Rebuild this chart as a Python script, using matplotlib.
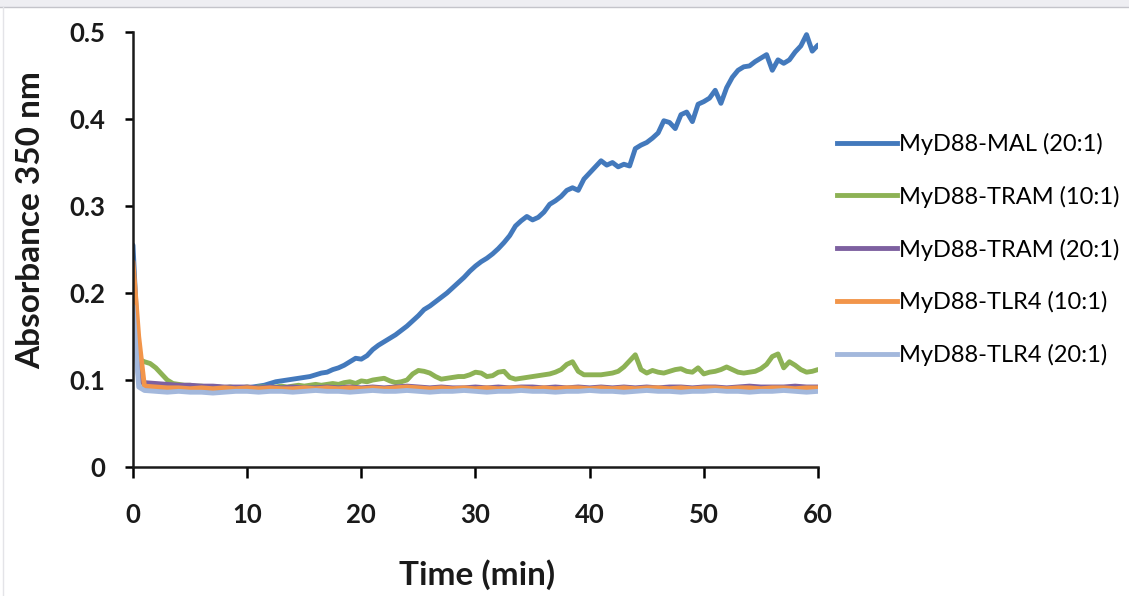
import numpy as np
import matplotlib
matplotlib.use("Agg")
import matplotlib.pyplot as plt
from matplotlib.patches import Rectangle
from matplotlib.lines import Line2D

# time axes (min)
t_fine = np.arange(0, 60.5, 0.5)
t_flat = np.concatenate([[0, 0.5], np.arange(1, 61)])

mal_20 = [
    0.255, 0.120, 0.092, 0.090, 0.089, 0.089, 0.088, 0.089, 0.088, 0.088,
    0.089, 0.088, 0.088, 0.089, 0.088, 0.089, 0.089, 0.089, 0.090, 0.090,
    0.091, 0.092, 0.093, 0.094, 0.096, 0.098, 0.099, 0.100, 0.101, 0.102,
    0.103, 0.104, 0.106, 0.108, 0.109, 0.112, 0.114, 0.117, 0.121, 0.125,
    0.124, 0.128, 0.135, 0.140, 0.144, 0.148, 0.152, 0.157, 0.162, 0.168,
    0.174, 0.181, 0.185, 0.190, 0.195, 0.200, 0.206, 0.212, 0.218, 0.225,
    0.231, 0.236, 0.240, 0.245, 0.251, 0.258, 0.266, 0.277, 0.283, 0.288,
    0.284, 0.287, 0.293, 0.302, 0.306, 0.311, 0.318, 0.321, 0.318, 0.331,
    0.338, 0.345, 0.352, 0.347, 0.350, 0.345, 0.348, 0.346, 0.366, 0.370,
    0.373, 0.378, 0.384, 0.398, 0.396, 0.389, 0.405, 0.408, 0.397, 0.417,
    0.420, 0.424, 0.433, 0.418, 0.436, 0.448, 0.456, 0.460, 0.461, 0.466,
    0.470, 0.474, 0.456, 0.468, 0.464, 0.468, 0.477, 0.484, 0.497, 0.478,
    0.485,
]

tram_10 = [
    0.200, 0.124, 0.121, 0.119, 0.114, 0.107, 0.100, 0.096, 0.095, 0.094,
    0.094, 0.093, 0.093, 0.092, 0.092, 0.092, 0.091, 0.092, 0.091, 0.091,
    0.092, 0.091, 0.092, 0.092, 0.091, 0.092, 0.093, 0.092, 0.093, 0.094,
    0.093, 0.094, 0.095, 0.094, 0.095, 0.096, 0.095, 0.097, 0.098, 0.096,
    0.099, 0.098, 0.100, 0.101, 0.102, 0.099, 0.097, 0.098, 0.100, 0.107,
    0.111, 0.110, 0.108, 0.104, 0.101, 0.102, 0.103, 0.104, 0.104, 0.106,
    0.109, 0.108, 0.104, 0.105, 0.109, 0.110, 0.103, 0.101, 0.102, 0.103,
    0.104, 0.105, 0.106, 0.107, 0.109, 0.112, 0.118, 0.121, 0.110, 0.106,
    0.106, 0.106, 0.106, 0.107, 0.108, 0.110, 0.115, 0.122, 0.129, 0.112,
    0.108, 0.111, 0.109, 0.108, 0.110, 0.112, 0.113, 0.110, 0.109, 0.114,
    0.107, 0.109, 0.110, 0.112, 0.115, 0.112, 0.109, 0.108, 0.109, 0.110,
    0.113, 0.118, 0.127, 0.130, 0.114, 0.121, 0.117, 0.112, 0.109, 0.110,
    0.112,
]

tram_20 = [
    0.195, 0.100, 0.097, 0.096, 0.095, 0.094, 0.094, 0.093, 0.093, 0.092, 0.092, 0.092,
    0.091, 0.092, 0.091, 0.092, 0.091, 0.091, 0.092, 0.091, 0.092, 0.091,
    0.092, 0.091, 0.092, 0.093, 0.092, 0.091, 0.092, 0.091, 0.091, 0.092,
    0.091, 0.092, 0.091, 0.092, 0.092, 0.091, 0.092, 0.091, 0.092, 0.091,
    0.092, 0.091, 0.092, 0.091, 0.092, 0.091, 0.092, 0.092, 0.091, 0.092,
    0.092, 0.091, 0.092, 0.093, 0.092, 0.092, 0.092, 0.093, 0.092, 0.092,
]

tlr4_10 = [
    0.236, 0.150, 0.093, 0.092, 0.091, 0.091, 0.090, 0.091, 0.090, 0.091, 0.090, 0.091,
    0.090, 0.091, 0.090, 0.090, 0.091, 0.090, 0.091, 0.090, 0.091, 0.090,
    0.091, 0.090, 0.091, 0.092, 0.091, 0.090, 0.091, 0.090, 0.091, 0.090,
    0.091, 0.090, 0.091, 0.091, 0.090, 0.091, 0.090, 0.091, 0.091, 0.090,
    0.091, 0.090, 0.091, 0.090, 0.091, 0.091, 0.090, 0.091, 0.090, 0.091,
    0.091, 0.090, 0.091, 0.091, 0.090, 0.091, 0.091, 0.090, 0.091, 0.091,
]

tlr4_20 = [
    0.185, 0.092, 0.088, 0.087, 0.086, 0.087, 0.086, 0.086, 0.085, 0.086, 0.087, 0.087,
    0.086, 0.087, 0.087, 0.086, 0.087, 0.088, 0.087, 0.087, 0.086, 0.087,
    0.088, 0.087, 0.087, 0.088, 0.087, 0.086, 0.087, 0.087, 0.088, 0.087,
    0.086, 0.087, 0.087, 0.088, 0.087, 0.087, 0.086, 0.087, 0.087, 0.088,
    0.087, 0.087, 0.086, 0.087, 0.088, 0.087, 0.087, 0.086, 0.087, 0.087,
    0.088, 0.087, 0.087, 0.086, 0.087, 0.087, 0.088, 0.087, 0.086, 0.087,
]

labels = ["MyD88-MAL (20:1)", "MyD88-TRAM (10:1)", "MyD88-TRAM (20:1)",
          "MyD88-TLR4 (10:1)", "MyD88-TLR4 (20:1)"]
colors = ["#4379BC", "#8DB255", "#7D60A0", "#F2954A", "#A3B8DC"]

fig = plt.figure(figsize=(11.29, 5.96), dpi=100)
ax = fig.add_axes([0.1178, 0.2164, 0.6067, 0.7299])

series = [(t_fine, mal_20), (t_fine, tram_10), (t_flat, tram_20),
          (t_flat, tlr4_10), (t_flat, tlr4_20)]
for (tx, ys), lab, c in zip(series, labels, colors):
    ax.plot(tx, ys, color=c, lw=3.5, label=lab, solid_joinstyle="round",
            solid_capstyle="round", zorder=3)

ax.set_xlim(0, 60)
ax.set_ylim(0, 0.5)
ax.set_xticks(range(0, 61, 10))
ax.set_yticks([0, 0.1, 0.2, 0.3, 0.4, 0.5])
ax.set_yticklabels(["0", "0.1", "0.2", "0.3", "0.4", "0.5"])

for side in ["top", "right"]:
    ax.spines[side].set_visible(False)
for side in ["left", "bottom"]:
    ax.spines[side].set_linewidth(1.8)
    ax.spines[side].set_color("#1a1a1a")
    ax.spines[side].set_zorder(4)

ax.tick_params(axis="y", direction="out", length=6, width=1.8, pad=14)
ax.tick_params(axis="x", direction="out", length=8, width=1.8, pad=18)
for lbl in ax.get_xticklabels() + ax.get_yticklabels():
    lbl.set_fontfamily("Lato")
    lbl.set_fontweight("bold")
    lbl.set_fontsize(18.5)
    lbl.set_color("#1a1a1a")

ax.set_xlabel("Time (min)", fontfamily="Lato", fontweight="bold", fontsize=24,
              color="#1a1a1a", va="top")
ax.xaxis.set_label_coords(0.502, -0.212)
ax.set_ylabel("Absorbance 350 nm", fontfamily="Lato", fontweight="bold",
              fontsize=24, color="#1a1a1a")
ax.yaxis.set_label_coords(-0.128, 0.568)

handles = [Line2D([], [], color=c, lw=3.5) for c in colors]
fig.legend(handles, labels, loc="center left",
           bbox_to_anchor=(0.733, 0.5814), frameon=False,
           prop={"family": "Lato", "size": 17}, handlelength=2.54,
           handletextpad=0.1, labelspacing=1.3, borderaxespad=0)

# faint scanned strip at the top and left edge
fig.patches.append(Rectangle((0, 0.988), 1, 0.012, transform=fig.transFigure,
                             facecolor="#eeeef2", edgecolor="none"))
fig.add_artist(Line2D([0, 1], [0.988, 0.988], transform=fig.transFigure,
                      color="#c4c4ca", lw=1))
fig.add_artist(Line2D([0.003, 0.003], [0, 0.988], transform=fig.transFigure,
                      color="#e4e4e8", lw=1))

fig.savefig("out.png", dpi=100, facecolor="white")
